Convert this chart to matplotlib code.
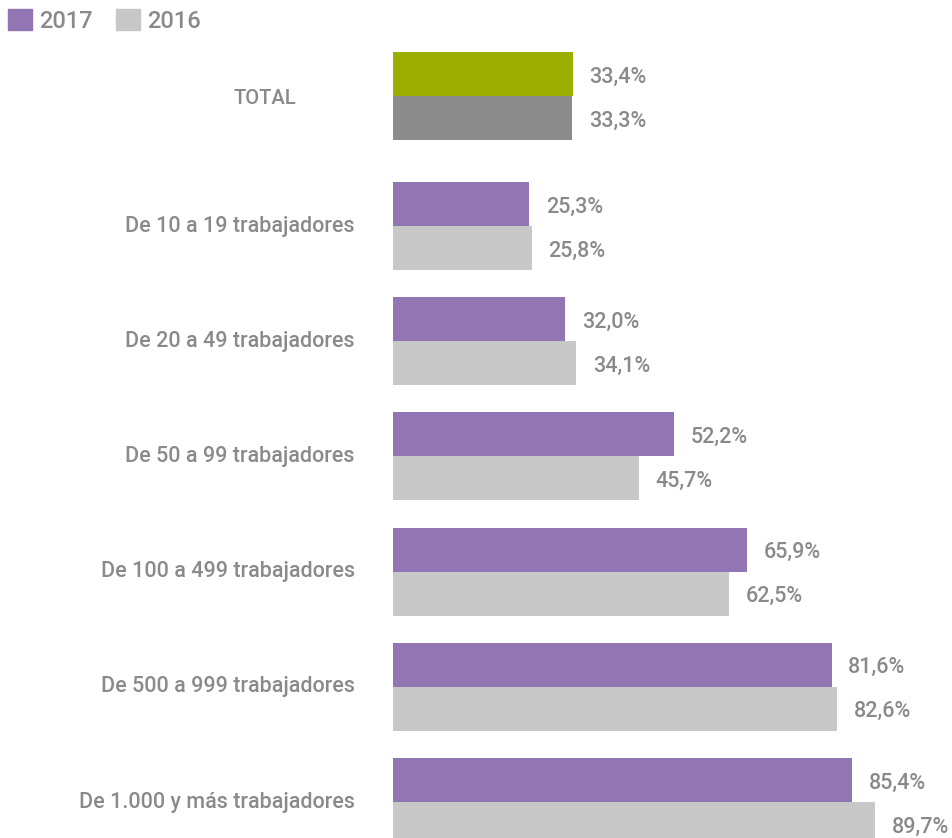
import matplotlib.pyplot as plt
from matplotlib.patches import Patch

categories = ["TOTAL", "De 10 a 19 trabajadores", "De 20 a 49 trabajadores",
              "De 50 a 99 trabajadores", "De 100 a 499 trabajadores",
              "De 500 a 999 trabajadores", "De 1.000 y más trabajadores"]
v2017 = [33.4, 25.3, 32.0, 52.2, 65.9, 81.6, 85.4]
v2016 = [33.3, 25.8, 34.1, 45.7, 62.5, 82.6, 89.7]

purple = "#9275b3"
light = "#c8c8c8"
total17 = "#9caf00"
total16 = "#8c8c8c"
txt = "#8a8a8a"
fam = "Roboto"
wt = "medium"

W, H = 953, 838
fig = plt.figure(figsize=(W / 100, H / 100), dpi=100)
x0 = 393
scale = 5.375  # px per percent
ax = fig.add_axes([x0 / W, 0, (W - x0) / W, 1])
ax.set_xlim(0, (W - x0) / scale)
ax.set_ylim(H, 0)  # y in pixels from top
ax.axis("off")

bh = 44
tops = [52] + [182 + 115.2 * i for i in range(len(categories) - 1)]

def fmt(v):
    return f"{v:.1f}%".replace(".", ",")

for i, cat in enumerate(categories):
    t = tops[i]
    c17 = total17 if i == 0 else purple
    c16 = total16 if i == 0 else light
    ax.barh(t, v2017[i], height=bh, align="edge", color=c17)
    ax.barh(t + bh, v2016[i], height=bh, align="edge", color=c16)
    for y, v in [(t + bh / 2 + 3, v2017[i]), (t + bh * 1.5 + 3, v2016[i])]:
        ax.annotate(fmt(v), (v, y), xytext=(12, 0), textcoords="offset points",
                    ha="left", va="center", fontsize=15.5, color=txt,
                    family=fam, weight=wt)
    if i == 0:
        ax.text((265 - x0) / scale, t + bh + 2, cat, ha="center", va="center",
                fontsize=14.5, color=txt, family=fam, weight=wt)
    else:
        ax.text(-38 / scale, t + bh, cat, ha="right", va="center",
                fontsize=15.5, color=txt, family=fam, weight=wt)

handles = [Patch(color=purple, label="2017"), Patch(color=light, label="2016")]
fig.legend(handles=handles, loc="upper left", bbox_to_anchor=(8 / W, 1 - 9 / H),
           ncol=2, frameon=False, borderpad=0, borderaxespad=0,
           handlelength=1.0, handleheight=1.0, handletextpad=0.3,
           columnspacing=1.0, prop={"family": fam, "size": 17, "weight": wt},
           labelcolor=txt)

fig.savefig("out.png", dpi=100)
